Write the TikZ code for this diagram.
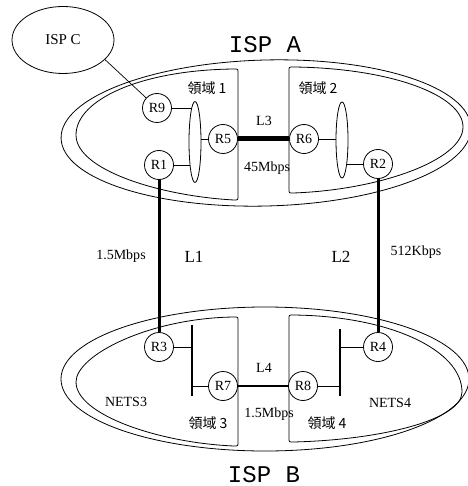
\documentclass[tikz,border=0pt]{standalone}
\usepackage{fontspec}
\setmainfont{Liberation Serif}
\newfontfamily\cjkfont{Noto Sans CJK TC}
\newfontfamily\ispfont{Liberation Mono}
\usetikzlibrary{shapes.geometric, backgrounds}

\tikzset{
  router/.style={circle, draw, fill=white, minimum size=29pt, inner sep=0pt,
    font=\fontsize{14}{16}\selectfont},
  busring/.style={ellipse, draw, fill=white, minimum width=12pt, inner sep=0pt},
  busbar/.style={line width=2pt},
  trunk/.style={line width=3pt},
  fatlink/.style={line width=5pt},
  wire/.style={line width=0.7pt},
  lbl/.style={font=\fontsize{14}{16}\selectfont},
  biglbl/.style={font=\fontsize{17}{19}\selectfont},
  area/.style={font=\cjkfont\fontsize{14}{16}\selectfont},
  isp/.style={font=\ispfont\fontsize{24}{26}\selectfont}
}

\begin{document}
\begin{tikzpicture}[x=1pt, y=-1pt, line width=0.8pt]
  \useasboundingbox (0,0) rectangle (467,486);

  % ISP A and its domains
  \draw[rotate around={1.5:(266,133)}] (266,133) ellipse [x radius=205pt, y radius=73pt];
  \draw (234,69) .. controls (140,70) and (76,100) .. (76,135)
    .. controls (76,170) and (160,196) .. (234,200)
    .. controls (238,200) .. (238,196) -- (238,73)
    .. controls (238,69) .. (234,69) -- cycle;
  \draw (293,67) .. controls (390,68) and (463,95) .. (463,127)
    .. controls (463,160) and (380,190) .. (293,193)
    .. controls (289,193) .. (289,189) -- (289,71)
    .. controls (289,67) .. (293,67) -- cycle;

  % ISP B and its domains
  \draw (265,379) ellipse [x radius=204pt, y radius=72pt];
  \draw (234,317) .. controls (150,318) and (76,355) .. (76,382)
    .. controls (76,415) and (160,443) .. (234,446)
    .. controls (238,446) .. (238,442) -- (238,321)
    .. controls (238,317) .. (234,317) -- cycle;
  \draw (293,315) .. controls (390,316) and (462,350) .. (462,392)
    .. controls (462,420) and (380,440) .. (293,442)
    .. controls (289,442) .. (289,438) -- (289,319)
    .. controls (289,315) .. (293,315) -- cycle;

  % ISP C
  \node[ellipse, draw, minimum width=102pt, minimum height=67pt, inner sep=0pt,
    font=\fontsize{15}{17}\selectfont] (ispc) at (63,40) {ISP C};

  % Routers
  \node[router] (r9) at (157,108) {R9};
  \node[router] (r1) at (159,165) {R1};
  \node[router] (r5) at (223,139) {R5};
  \node[router] (r6) at (304,139) {R6};
  \node[router] (r2) at (378,164) {R2};
  \node[router] (r3) at (159,347) {R3};
  \node[router] (r7) at (223,386) {R7};
  \node[router] (r8) at (303,386) {R8};
  \node[router] (r4) at (378,347) {R4};

  % LANs
  \node[busring, minimum height=81pt] (bus1) at (195,142) {};
  \node[busring, minimum height=76pt] (bus2) at (342,140) {};
  \coordinate (bus3t) at (192,325);
  \coordinate (bus3b) at (192,396);
  \coordinate (bus4t) at (340,329);
  \coordinate (bus4b) at (340,396);
  \draw[busbar] (bus3t) -- (bus3b);
  \draw[busbar] (bus4t) -- (bus4b);

  \begin{scope}[on background layer]
    \draw[wire] (r9) -- (r9 -| bus1);
    \draw[wire] (r1) -- (r1 -| bus1);
    \draw[wire] (r5) -- (r5 -| bus1);
    \draw[wire] (r6) -- (r6 -| bus2);
    \draw[wire] (r2) -- (r2 -| bus2);
  \end{scope}
  \draw[wire] (r3) -- (r3 -| bus3t);
  \draw[wire] (r7) -- (r7 -| bus3t);
  \draw[wire] (r4) -- (r4 -| bus4t);
  \draw[wire] (r8) -- (r8 -| bus4t);
  \draw[wire] (ispc.-25) -- (r9);

  % Links
  \draw[fatlink] (r5) -- (r6);
  \draw[trunk] (r1) -- (r3);
  \draw[trunk] (r2) -- (r4);
  \draw[busbar] (r7) -- (r8);

  % Labels
  \node[isp] (ispa) at (265,45) {ISP A};
  \node[isp] (ispb) at (264,475) {ISP B};
  \node[area] (dom1) at (207,88) {領域 1};
  \node[area] (dom2) at (318,88) {領域 2};
  \node[area] (dom3) at (208,423) {領域 3};
  \node[area] (dom4) at (327,423) {領域 4};
  \node[lbl] (l3) at (264,121) {L3};
  \node[lbl] (bw3) at (267,168) {45Mbps};
  \node[lbl] (l4) at (264,368) {L4};
  \node[lbl] (bw4) at (269,414) {1.5Mbps};
  \node[biglbl] (l1) at (194,257) {L1};
  \node[biglbl] (l2) at (341,257) {L2};
  \node[lbl] (bw1) at (121,256) {1.5Mbps};
  \node[lbl] (bw2) at (416,252) {512Kbps};
  \node[lbl] (nets3) at (126,402) {NETS3};
  \node[lbl] (nets4) at (390,403) {NETS4};

\end{tikzpicture}
\end{document}
